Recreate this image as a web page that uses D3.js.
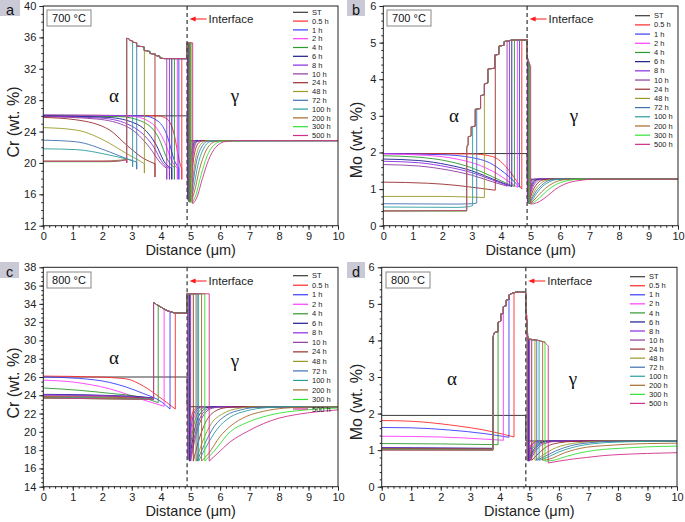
<!DOCTYPE html>
<html>
<head>
<meta charset="utf-8">
<script src="https://cdn.jsdelivr.net/npm/d3@7"></script>
<style>
  body { margin: 0; background: #fff; }
  svg { display: block; font-family: Arial, "Liberation Sans", sans-serif; }
</style>
</head>
<body>
<svg id="chart" width="685" height="522"></svg>
<script>
// series (legend order)
const seriesNames = ['ST', '0.5 h', '1 h', '2 h', '4 h', '6 h', '8 h', '10 h', '24 h', '48 h', '72 h', '100 h', '200 h', '300 h', '500 h'];
const seriesColors = ['#3a3a3a', '#ff2a2a', '#3b3bff', '#ff3cff', '#2e9a2e', '#1c1c8c', '#8a2be2', '#8e3a9e',
  '#9b2d2d', '#9a9a2a', '#3f6fb0', '#2a9d9d', '#a5692a', '#33e033', '#d0308a'];

// ---- a: Cr, 700 °C ----
const crST700 = [[0, 26], [4.88, 26], [4.88, 22.85], [10, 22.85]];
// ferrite profiles (0.5 h ... 500 h), last point = alpha/sigma boundary
const crAlpha700 = [
  [[0, 26.1], [3.9, 26.0], [4.2, 25.6], [4.45, 23.5], [4.6, 20.5], [4.7, 19.2], [4.7, 17.9]],
  [[0, 26.1], [3.4, 26.0], [3.9, 25.3], [4.2, 23.5], [4.45, 20.3], [4.6, 19.3], [4.6, 17.9]],
  [[0, 26.05], [3.0, 25.95], [3.7, 25.0], [4.1, 22.8], [4.4, 20.0], [4.55, 19.3], [4.55, 17.9]],
  [[0, 26.0], [2.6, 25.9], [3.4, 25.2], [3.9, 23.3], [4.25, 20.2], [4.45, 19.4], [4.45, 17.9]],
  [[0, 26.0], [2.2, 25.8], [3.2, 24.9], [3.8, 22.5], [4.15, 19.9], [4.36, 19.3], [4.36, 17.9]],
  [[0, 25.95], [2.0, 25.7], [3.0, 24.7], [3.7, 22.3], [4.1, 19.8], [4.28, 19.3], [4.28, 17.9]],
  [[0, 25.9], [1.8, 25.6], [2.9, 24.5], [3.6, 22.0], [4.0, 19.9], [4.19, 19.3], [4.19, 17.9]],
  [[0, 25.8], [1.1, 25.5], [2.25, 24.2], [2.82, 22.3], [3.39, 20.6], [3.79, 19.9], [3.79, 18.2]],
  [[0, 24.5], [1.1, 24.2], [2.25, 22.5], [2.82, 21.2], [3.3, 20.2], [3.43, 19.9], [3.43, 18.7]],
  [[0, 22.9], [1.1, 22.7], [2.25, 21.4], [2.93, 20.4], [3.17, 20.1], [3.17, 19.2]],
  [[0, 21.8], [1.1, 21.7], [2.25, 21.0], [2.82, 20.5], [3.03, 20.3], [3.03, 19.5]],
  [[0, 20.25], [2.0, 20.25], [2.6, 20.35], [2.83, 20.45], [2.83, 20.0]],
  [[0, 20.15], [2.2, 20.15], [2.83, 20.4]],
  [[0, 20.2], [2.4, 20.2], [2.83, 20.4], [2.83, 20.0]]
];
const crSigmaAlpha700 = [[2.83, 35.9], [2.93, 35.75], [2.93, 35.6], [3.03, 35.55], [3.03, 35.4], [3.17, 35.3], [3.17, 34.9],
  [3.42, 34.8], [3.42, 34.35], [3.62, 34.2], [3.62, 33.95], [3.8, 33.85], [3.8, 33.7], [3.95, 33.6], [3.95, 33.4], [4.1, 33.3], [4.88, 33.3]];
const crSigmaGamma700 = [[4.88, 35.3], [5.1, 35.3]];
const crGamma700 = [
  [[4.89, 16.5], [4.93, 20.6], [4.99, 22.5], [5.08, 22.85], [10, 22.85]],
  [[4.892, 16], [4.94, 20.2], [5.0, 22.4], [5.1, 22.85], [10, 22.85]],
  [[4.895, 15.7], [4.95, 19.8], [5.02, 22.2], [5.12, 22.85], [10, 22.85]],
  [[4.9, 15.5], [4.96, 19.3], [5.04, 22.0], [5.14, 22.8], [5.24, 22.85], [10, 22.85]],
  [[4.905, 15.4], [4.97, 19], [5.06, 21.9], [5.17, 22.8], [5.27, 22.85], [10, 22.85]],
  [[4.91, 15.3], [4.98, 18.8], [5.08, 21.7], [5.2, 22.75], [5.3, 22.85], [10, 22.85]],
  [[4.92, 15.2], [5.0, 18.5], [5.1, 21.5], [5.22, 22.7], [5.35, 22.85], [10, 22.85]],
  [[4.93, 15.1], [5.02, 18], [5.12, 21], [5.28, 22.6], [5.45, 22.85], [10, 22.85]],
  [[4.95, 15], [5.05, 17.5], [5.17, 20.6], [5.35, 22.4], [5.55, 22.85], [10, 22.85]],
  [[4.96, 15], [5.06, 17], [5.2, 20.2], [5.4, 22.2], [5.6, 22.8], [10, 22.85]],
  [[4.98, 15], [5.1, 16.8], [5.25, 19.8], [5.45, 21.9], [5.65, 22.7], [5.9, 22.85], [10, 22.85]],
  [[5.0, 15.0], [5.12, 16.2], [5.3, 19.2], [5.5, 21.4], [5.75, 22.6], [6.0, 22.85], [10, 22.85]],
  [[5.04, 14.9], [5.15, 15.6], [5.35, 18.4], [5.55, 20.8], [5.8, 22.3], [6.1, 22.8], [10, 22.85]],
  [[5.07, 14.8], [5.2, 15.5], [5.4, 18.0], [5.6, 20.3], [5.85, 22.0], [6.2, 22.75], [6.6, 22.85], [10, 22.85]]
];

// ---- b: Mo, 700 °C ----
const moST700 = [[0, 1.97], [4.88, 1.97], [4.88, 1.27], [10, 1.27]];
const moAlpha700 = [
  [[0, 1.97], [3.0, 1.96], [3.7, 1.89], [4.15, 1.62], [4.5, 1.25], [4.7, 1.0]],
  [[0, 1.97], [2.0, 1.94], [3.0, 1.86], [3.6, 1.72], [4.1, 1.45], [4.45, 1.2], [4.62, 1.05]],
  [[0, 1.96], [1.5, 1.92], [2.5, 1.82], [3.3, 1.64], [3.9, 1.4], [4.3, 1.18], [4.55, 1.05]],
  [[0, 1.91], [1.2, 1.87], [2.2, 1.76], [3.0, 1.58], [3.7, 1.34], [4.2, 1.15], [4.45, 1.07]],
  [[0, 1.82], [1.2, 1.78], [2.2, 1.66], [3.0, 1.5], [3.7, 1.28], [4.36, 1.07]],
  [[0, 1.76], [1.2, 1.72], [2.2, 1.6], [3.0, 1.45], [3.7, 1.25], [4.28, 1.08]],
  [[0, 1.67], [1.2, 1.63], [2.2, 1.52], [3.0, 1.38], [3.7, 1.2], [4.2, 1.08]],
  [[0, 1.19], [1.5, 1.16], [2.5, 1.1], [3.3, 1.02], [3.8, 0.97]],
  [[0, 0.8], [2.0, 0.8], [3.0, 0.78], [3.43, 0.77]],
  [[0, 0.6], [2.5, 0.59], [3.05, 0.6], [3.17, 0.62]],
  [[0, 0.51], [2.5, 0.5], [2.9, 0.52], [3.03, 0.55]],
  [[0, 0.41], [2.83, 0.41]],
  [[0, 0.4], [2.83, 0.4]],
  [[0, 0.4], [2.83, 0.41]]
];
const moSigmaAlpha700 = [[2.83, 2.1], [2.86, 2.2], [2.88, 2.2], [2.88, 2.43], [2.98, 2.45], [2.98, 2.7], [3.12, 2.72], [3.12, 3.18],
  [3.3, 3.2], [3.3, 3.55], [3.43, 3.58], [3.43, 3.87], [3.55, 3.9], [3.55, 4.28], [3.78, 4.3], [3.78, 4.66], [3.92, 4.68],
  [3.92, 4.9], [4.1, 4.93], [4.1, 5.03], [4.25, 5.05], [4.4, 5.07], [4.88, 5.08]];
const moSigmaGamma700 = [[4.88, 4.56], [4.92, 4.48], [4.96, 4.41], [5.0, 4.35], [5.02, 4.33]];
const moGamma700 = [
  [[4.89, 0.75], [4.92, 1.05], [4.98, 1.2], [5.06, 1.26], [5.13, 1.27], [10, 1.27]],
  [[4.89, 0.72], [4.93, 1.0], [4.99, 1.18], [5.08, 1.26], [5.16, 1.27], [10, 1.27]],
  [[4.895, 0.7], [4.935, 0.95], [5.0, 1.16], [5.1, 1.25], [5.2, 1.27], [10, 1.27]],
  [[4.9, 0.67], [4.94, 0.9], [5.02, 1.13], [5.12, 1.24], [5.23, 1.27], [10, 1.27]],
  [[4.9, 0.65], [4.95, 0.86], [5.03, 1.1], [5.14, 1.23], [5.27, 1.27], [10, 1.27]],
  [[4.905, 0.64], [4.96, 0.83], [5.05, 1.08], [5.17, 1.22], [5.3, 1.27], [10, 1.27]],
  [[4.91, 0.63], [4.97, 0.8], [5.07, 1.05], [5.2, 1.2], [5.35, 1.26], [5.5, 1.27], [10, 1.27]],
  [[4.92, 0.62], [4.98, 0.75], [5.1, 1.0], [5.25, 1.17], [5.42, 1.25], [5.65, 1.27], [10, 1.27]],
  [[4.93, 0.61], [5.0, 0.72], [5.14, 0.96], [5.32, 1.14], [5.52, 1.24], [5.8, 1.27], [10, 1.27]],
  [[4.94, 0.6], [5.02, 0.7], [5.17, 0.92], [5.37, 1.1], [5.6, 1.23], [5.9, 1.27], [10, 1.27]],
  [[4.95, 0.6], [5.03, 0.67], [5.2, 0.88], [5.4, 1.07], [5.7, 1.22], [6.0, 1.27], [10, 1.27]],
  [[4.96, 0.6], [5.05, 0.65], [5.25, 0.82], [5.5, 1.02], [5.8, 1.18], [6.2, 1.26], [6.5, 1.27], [10, 1.27]],
  [[4.98, 0.6], [5.08, 0.63], [5.3, 0.76], [5.55, 0.95], [5.85, 1.12], [6.2, 1.22], [6.7, 1.27], [10, 1.27]],
  [[5.0, 0.59], [5.1, 0.6], [5.3, 0.66], [5.55, 0.8], [5.85, 1.0], [6.2, 1.15], [6.6, 1.23], [7.2, 1.27], [10, 1.27]]
];

// ---- c: Cr, 800 °C ----
const crST800 = [[0, 26.0], [4.88, 26.0], [4.88, 22.75], [10, 22.75]];
const crAlpha800 = [
  [[0, 26.1], [1.8, 26.0], [2.8, 25.8], [3.4, 25.0], [3.9, 23.9], [4.48, 22.5]],
  [[0, 26.0], [1.2, 25.85], [2.26, 25.4], [3.39, 24.2], [4.0, 23.3], [4.3, 22.5]],
  [[0, 25.65], [1.0, 25.45], [2.26, 24.7], [3.39, 23.5], [4.1, 22.8]],
  [[0, 24.8], [1.2, 24.55], [2.3, 24.2], [3.3, 23.8], [3.9, 23.2]],
  [[0, 24.1], [1.5, 24.05], [2.5, 23.95], [3.3, 23.85], [3.74, 23.7]],
  [[0, 24.05], [2.0, 23.95], [3.0, 23.85], [3.74, 23.65]],
  [[0, 23.95], [2.0, 23.9], [3.0, 23.8], [3.74, 23.6]],
  [[0, 23.85], [2.0, 23.8], [3.74, 23.65]],
  [[0, 23.8], [2.0, 23.75], [3.74, 23.6]],
  [[0, 23.75], [3.74, 23.6]],
  [[0, 23.75], [3.74, 23.6]],
  [[0, 23.7], [3.74, 23.55]],
  [[0, 23.7], [3.74, 23.55]],
  [[0, 23.7], [3.74, 23.55]]
];
const crSigmaAlpha800 = [[3.74, 34.1], [3.8, 34.05], [3.85, 33.9], [3.96, 33.7], [4.07, 33.5], [4.18, 33.3], [4.3, 33.15],
  [4.41, 33.05], [4.55, 32.98], [4.88, 32.97]];
const crSigmaGamma800 = [[4.88, 35.1], [5.7, 35.1]];
const crGamma800 = [
  [[4.9, 17.3], [4.98, 20.5], [5.08, 22.2], [5.2, 22.65], [5.35, 22.75], [10, 22.75]],
  [[4.91, 17.1], [5.0, 20.1], [5.11, 22.0], [5.25, 22.6], [5.42, 22.75], [10, 22.75]],
  [[4.92, 17.0], [5.02, 19.8], [5.14, 21.8], [5.3, 22.55], [5.5, 22.75], [10, 22.75]],
  [[4.94, 16.9], [5.04, 19.5], [5.18, 21.6], [5.35, 22.45], [5.55, 22.72], [5.8, 22.75], [10, 22.75]],
  [[4.96, 16.8], [5.07, 19.2], [5.22, 21.3], [5.4, 22.3], [5.6, 22.7], [5.9, 22.75], [10, 22.75]],
  [[4.98, 16.8], [5.1, 19.0], [5.27, 21.1], [5.45, 22.2], [5.7, 22.65], [6.0, 22.75], [10, 22.75]],
  [[5.0, 16.8], [5.12, 18.8], [5.3, 20.9], [5.5, 22.1], [5.75, 22.6], [6.1, 22.75], [10, 22.75]],
  [[5.09, 16.8], [5.25, 18.8], [5.5, 21.0], [5.8, 22.2], [6.2, 22.65], [6.7, 22.75], [10, 22.75]],
  [[5.18, 16.8], [5.4, 18.9], [5.7, 20.9], [6.1, 22.0], [6.6, 22.55], [7.2, 22.75], [10, 22.75]],
  [[5.22, 16.8], [5.45, 18.5], [5.8, 20.6], [6.2, 21.8], [6.7, 22.4], [7.3, 22.7], [8, 22.75], [10, 22.75]],
  [[5.27, 16.8], [5.5, 18.2], [5.9, 20.3], [6.34, 21.6], [6.9, 22.3], [7.6, 22.65], [8.5, 22.75], [10, 22.75]],
  [[5.37, 16.8], [5.6, 17.6], [6.0, 19.5], [6.34, 20.6], [6.9, 21.7], [7.47, 22.25], [8.2, 22.6], [9, 22.72], [10, 22.75]],
  [[5.48, 16.8], [5.8, 17.9], [6.34, 20.0], [6.9, 21.0], [7.47, 21.65], [8.0, 22.05], [8.6, 22.3], [9.3, 22.5], [10, 22.6]],
  [[5.63, 16.8], [5.9, 17.6], [6.34, 18.9], [6.9, 20.0], [7.47, 20.9], [8.0, 21.5], [8.6, 21.9], [9.3, 22.2], [10, 22.4]]
];

// ---- d: Mo, 800 °C ----
const moST800 = [[0, 1.95], [4.88, 1.95], [4.88, 1.25], [10, 1.25]];
const moAlpha800 = [
  [[0, 1.81], [1.0, 1.79], [2.3, 1.69], [3.77, 1.5], [4.48, 1.36]],
  [[0, 1.62], [1.0, 1.61], [2.3, 1.55], [3.5, 1.45], [4.31, 1.35]],
  [[0, 1.38], [2.0, 1.36], [3.5, 1.3], [4.12, 1.27]],
  [[0, 1.18], [2.0, 1.17], [3.94, 1.15]],
  [[0, 1.07], [2.0, 1.06], [3.77, 1.05]],
  [[0, 1.06], [2.0, 1.05], [3.77, 1.04]],
  [[0, 1.05], [2.0, 1.04], [3.77, 1.04]],
  [[0, 1.04], [3.77, 1.03]],
  [[0, 1.03], [3.77, 1.02]],
  [[0, 1.02], [3.77, 1.02]],
  [[0, 1.02], [3.77, 1.01]],
  [[0, 1.01], [3.77, 1.01]],
  [[0, 1.01], [3.77, 1.0]],
  [[0, 1.0], [3.77, 1.0]]
];
const moSigmaAlpha800 = [[3.77, 4.0], [3.8, 4.2], [3.94, 4.24], [3.94, 4.5], [4.03, 4.53], [4.03, 4.72], [4.12, 4.74], [4.12, 4.92],
  [4.22, 4.95], [4.22, 5.1], [4.32, 5.13], [4.32, 5.25], [4.45, 5.3], [4.6, 5.32], [4.85, 5.32], [4.88, 5.3]];
const moSigmaGamma800 = [[4.88, 5.3], [4.9, 4.7], [4.93, 4.2], [4.96, 4.04], [5.1, 4.02], [5.3, 4.0], [5.45, 3.97], [5.55, 3.92], [5.64, 3.85], [5.7, 3.8]];
const moGamma800 = [
  [[4.92, 0.74], [5.01, 1.06], [5.14, 1.21], [5.3, 1.25], [10, 1.25]],
  [[4.93, 0.72], [5.03, 1.03], [5.17, 1.2], [5.35, 1.25], [10, 1.25]],
  [[4.94, 0.71], [5.05, 1.0], [5.2, 1.18], [5.4, 1.24], [5.6, 1.25], [10, 1.25]],
  [[4.95, 0.7], [5.07, 0.98], [5.23, 1.16], [5.45, 1.24], [5.7, 1.25], [10, 1.25]],
  [[4.97, 0.7], [5.1, 0.95], [5.27, 1.14], [5.5, 1.23], [5.8, 1.25], [10, 1.25]],
  [[4.99, 0.7], [5.12, 0.92], [5.3, 1.12], [5.55, 1.22], [5.85, 1.25], [10, 1.25]],
  [[5.01, 0.7], [5.15, 0.9], [5.35, 1.1], [5.6, 1.2], [5.9, 1.24], [6.3, 1.25], [10, 1.25]],
  [[5.08, 0.72], [5.3, 0.9], [5.6, 1.1], [6.0, 1.2], [6.5, 1.24], [7.0, 1.25], [10, 1.25]],
  [[5.19, 0.72], [5.45, 0.86], [5.8, 1.03], [6.3, 1.16], [6.9, 1.22], [7.6, 1.25], [10, 1.25]],
  [[5.25, 0.72], [5.5, 0.82], [5.9, 0.98], [6.4, 1.12], [7.0, 1.2], [7.8, 1.24], [9, 1.25], [10, 1.25]],
  [[5.33, 0.72], [5.6, 0.8], [6.0, 0.95], [6.5, 1.08], [7.2, 1.18], [8.0, 1.22], [9.0, 1.24], [10, 1.25]],
  [[5.45, 0.72], [5.7, 0.76], [6.2, 0.93], [6.94, 1.08], [7.5, 1.12], [8.07, 1.15], [9, 1.18], [10, 1.19]],
  [[5.53, 0.7], [5.8, 0.72], [6.3, 0.84], [6.94, 0.96], [7.5, 1.02], [8.07, 1.05], [9, 1.09], [10, 1.11]],
  [[5.64, 0.65], [6.0, 0.7], [6.5, 0.76], [6.94, 0.8], [7.5, 0.85], [8.07, 0.88], [9, 0.91], [10, 0.93]]
];

const interfaceX = 4.88;

const panels = [
  { letter: 'a', box: [0, 0, 20, 16], l: 43.3, r: 338, t: 6, b: 225.7, y: [12, 40], yStep: 4, yMinor: 1,
    ylabel: 'Cr (wt. %)', ylx: 19, yly: 122, temp: '700 °C', tbox: [47, 10],
    legend: [293, 12.3, 8.8], arrowY: 19, alphaPos: [114, 102], gammaPos: [235, 102],
    st: crST700, alpha: crAlpha700, sigA: crSigmaAlpha700, sigG: crSigmaGamma700, gamma: crGamma700 },
  { letter: 'b', box: [347, 0, 18, 16], l: 383.3, r: 678, t: 6, b: 225.7, y: [0, 6], yStep: 1, yMinor: 0.2,
    ylabel: 'Mo (wt. %)', ylx: 362, yly: 140, temp: '700 °C', tbox: [387, 10],
    legend: [635, 15.7, 9.19], arrowY: 19, alphaPos: [454, 122], gammaPos: [574, 122],
    st: moST700, alpha: moAlpha700, sigA: moSigmaAlpha700, sigG: moSigmaGamma700, gamma: moGamma700 },
  { letter: 'c', box: [0, 262, 19, 16], l: 43.3, r: 338, t: 267.3, b: 486.7, y: [14, 38], yStep: 2, yMinor: 0.5,
    ylabel: 'Cr (wt. %)', ylx: 19, yly: 383, temp: '800 °C', tbox: [47, 272],
    legend: [293, 275.7, 9.52], arrowY: 281, alphaPos: [114, 364], gammaPos: [235, 367],
    st: crST800, alpha: crAlpha800, sigA: crSigmaAlpha800, sigG: crSigmaGamma800, gamma: crGamma800 },
  { letter: 'd', box: [347, 262, 18, 16], l: 381.7, r: 677, t: 267.3, b: 486.7, y: [0, 6], yStep: 1, yMinor: 0.2,
    ylabel: 'Mo (wt. %)', ylx: 362, yly: 402, temp: '800 °C', tbox: [386, 272],
    legend: [630, 276.7, 9.05], arrowY: 281, alphaPos: [452, 385], gammaPos: [573, 385],
    st: moST800, alpha: moAlpha800, sigA: moSigmaAlpha800, sigG: moSigmaGamma800, gamma: moGamma800 }
];

// join ferrite profile, sigma staircase (alpha side), sigma (gamma side) and gamma profile
function buildSeries(alpha, sigA, sigG, gamma) {
  const pts = alpha.slice();
  const xj = alpha[alpha.length - 1][0];
  let v0 = sigA[0][1];
  sigA.forEach(p => { if (p[0] <= xj) v0 = p[1]; });
  pts.push([xj, v0]);
  sigA.forEach(p => { if (p[0] > xj) pts.push(p); });
  const xs = gamma[0][0];
  let g0 = sigG[0][1];
  sigG.forEach(p => {
    if (p[0] < xs) pts.push(p);
    if (p[0] <= xs) g0 = p[1];
  });
  pts.push([xs, g0]);
  return pts.concat(gamma);
}

// vertical jumps split the path; each run is smoothed separately
function pathFor(pts, x, y) {
  const line = d3.line().x(d => x(d[0])).y(d => y(d[1])).curve(d3.curveMonotoneX);
  const runs = [];
  let run = [pts[0]];
  for (let i = 1; i < pts.length; i++) {
    if (pts[i][0] - pts[i - 1][0] > 1e-9) run.push(pts[i]);
    else { runs.push(run); run = [pts[i]]; }
  }
  runs.push(run);
  let d = '';
  runs.forEach((r, i) => {
    if (r.length === 1) d += (i ? 'L' : 'M') + x(r[0][0]) + ',' + y(r[0][1]);
    else { const s = line(r); d += i ? s.replace(/^M/, 'L') : s; }
  });
  return d;
}

const svg = d3.select('#chart');
const defs = svg.append('defs');
const axisColor = '#222';

panels.forEach((p, pi) => {
  const x = d3.scaleLinear().domain([0, 10]).range([p.l, p.r]);
  const y = d3.scaleLinear().domain(p.y).range([p.b, p.t]);
  const g = svg.append('g');

  defs.append('clipPath').attr('id', 'clip' + pi)
    .append('rect').attr('x', p.l).attr('y', p.t).attr('width', p.r - p.l).attr('height', p.b - p.t);

  // panel letter
  g.append('rect').attr('x', p.box[0]).attr('y', p.box[1]).attr('width', p.box[2]).attr('height', p.box[3])
    .attr('fill', '#c9cad6');
  g.append('text').attr('x', p.box[0] + p.box[2] / 2).attr('y', p.box[1] + 14.5)
    .attr('text-anchor', 'middle').attr('font-size', '14.5px').attr('fill', '#111').text(p.letter);

  // series
  const lines = g.append('g').attr('clip-path', `url(#clip${pi})`).attr('fill', 'none');
  lines.append('path').attr('d', pathFor(p.st, x, y)).attr('stroke', seriesColors[0]).attr('stroke-width', 1);
  p.alpha.forEach((a, i) => {
    const pts = buildSeries(a, p.sigA, p.sigG, p.gamma[i]);
    lines.append('path').attr('d', pathFor(pts, x, y))
      .attr('stroke', seriesColors[i + 1]).attr('stroke-width', 0.9).attr('stroke-linejoin', 'round');
  });

  // interface
  g.append('line').attr('x1', x(interfaceX)).attr('x2', x(interfaceX)).attr('y1', p.t).attr('y2', p.b)
    .attr('stroke', '#444').attr('stroke-width', 1.3).attr('stroke-dasharray', '4,3');

  // axes
  const xMajor = d3.axisBottom(x).tickValues(d3.range(0, 11, 1)).tickSize(4).tickPadding(3).tickFormat(d3.format('d'));
  const xMinor = d3.axisBottom(x).tickValues(d3.range(0, 10.01, 0.2)).tickSize(2).tickFormat('');
  const yTicks = d3.range(p.y[0], p.y[1] + 0.001, p.yStep);
  const yMajor = d3.axisLeft(y).tickValues(yTicks).tickSize(4).tickPadding(3).tickFormat(d3.format('d'));
  const yMinor = d3.axisLeft(y).tickValues(d3.range(p.y[0], p.y[1] + 0.001, p.yMinor)).tickSize(2).tickFormat('');

  [[xMinor, 'x'], [xMajor, 'x'], [yMinor, 'y'], [yMajor, 'y']].forEach(([ax, k]) => {
    const ag = g.append('g')
      .attr('transform', k === 'x' ? `translate(0,${p.b})` : `translate(${p.l},0)`)
      .call(ax);
    ag.select('.domain').remove();
    ag.selectAll('line').attr('stroke', axisColor);
    ag.selectAll('text').attr('font-size', '11px').attr('fill', '#222').attr('font-family', 'Arial, "Liberation Sans", sans-serif');
  });

  g.append('rect').attr('x', p.l).attr('y', p.t).attr('width', p.r - p.l).attr('height', p.b - p.t)
    .attr('fill', 'none').attr('stroke', axisColor).attr('stroke-width', 1);

  // axis titles
  g.append('text').attr('x', (p.l + p.r) / 2).attr('y', p.b + 29.5).attr('text-anchor', 'middle')
    .attr('font-size', '14.5px').attr('fill', '#222').text('Distance (μm)');
  g.append('text').attr('transform', `translate(${p.ylx},${p.yly}) rotate(-90)`).attr('text-anchor', 'middle')
    .attr('font-size', '16px').attr('fill', '#222').text(p.ylabel);

  // temperature box
  g.append('rect').attr('x', p.tbox[0]).attr('y', p.tbox[1]).attr('width', 44).attr('height', 16)
    .attr('fill', '#fff').attr('stroke', '#888').attr('stroke-width', 1);
  g.append('text').attr('x', p.tbox[0] + 22).attr('y', p.tbox[1] + 12).attr('text-anchor', 'middle')
    .attr('font-size', '11px').attr('fill', '#111').text(p.temp);

  // interface arrow and label
  const ax0 = x(interfaceX) + 2.5;
  g.append('line').attr('x1', ax0 + 4).attr('x2', ax0 + 17).attr('y1', p.arrowY).attr('y2', p.arrowY)
    .attr('stroke', '#ff8a8a').attr('stroke-width', 2);
  g.append('path').attr('d', `M${ax0},${p.arrowY}L${ax0 + 6},${p.arrowY - 2.5}L${ax0 + 6},${p.arrowY + 2.5}Z`).attr('fill', '#ff1a1a');
  g.append('text').attr('x', ax0 + 19).attr('y', p.arrowY + 4).attr('font-size', '11.5px').attr('fill', '#222').text('Interface');

  // phase labels
  g.append('text').attr('x', p.alphaPos[0]).attr('y', p.alphaPos[1]).attr('text-anchor', 'middle')
    .attr('font-family', '"Liberation Serif", "DejaVu Serif", serif').attr('font-size', '19px').attr('fill', '#111').text('α');
  g.append('text').attr('x', p.gammaPos[0]).attr('y', p.gammaPos[1]).attr('text-anchor', 'middle')
    .attr('font-family', '"Liberation Serif", "DejaVu Serif", serif').attr('font-size', '19px').attr('fill', '#111').text('γ');

  // legend
  const [lx, ly, ldy] = p.legend;
  seriesNames.forEach((name, i) => {
    const yy = ly + i * ldy;
    g.append('line').attr('x1', lx).attr('x2', lx + 15).attr('y1', yy).attr('y2', yy)
      .attr('stroke', seriesColors[i]).attr('stroke-width', 1.2);
    g.append('text').attr('x', lx + 19).attr('y', yy + 2.6).attr('font-size', '7.5px').attr('fill', '#222').text(name);
  });
});
</script>
</body>
</html>
